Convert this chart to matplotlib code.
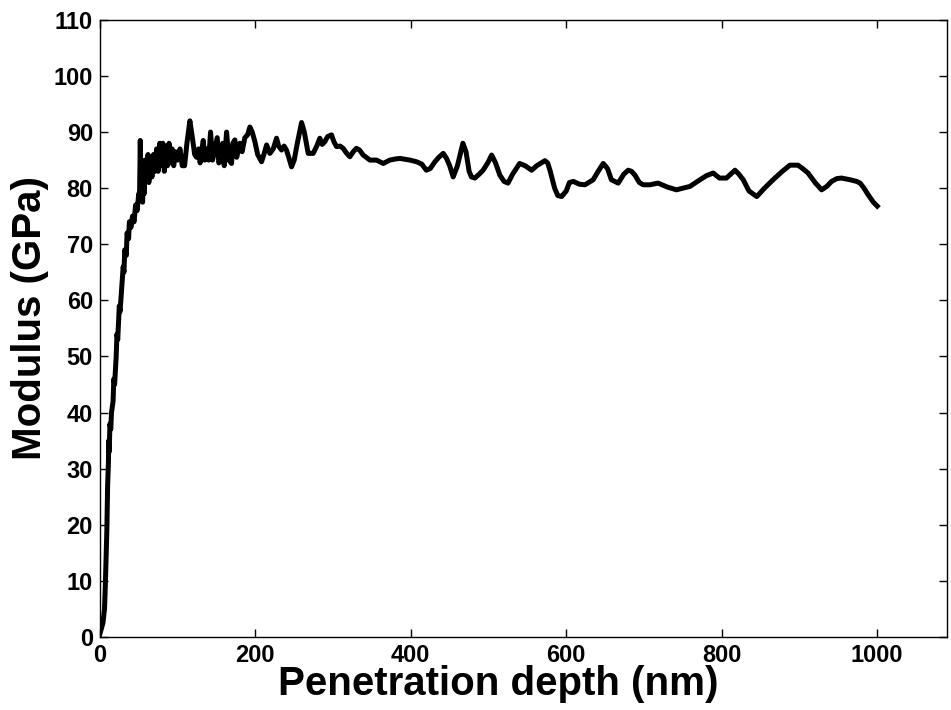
import matplotlib
matplotlib.use("Agg")
import matplotlib.pyplot as plt
import numpy as np

# penetration depth (nm) and modulus (GPa)
depth = [0, 2, 4, 6, 7, 8, 9, 10, 11, 11.5, 12, 13, 14, 15, 17, 18, 19, 21, 22, 23,
         25, 26, 28, 30, 31, 32, 34, 35, 37, 38, 40, 42, 44, 46, 48, 50, 51, 52, 53, 55,
         56, 57, 58, 60, 62, 63, 65, 67, 69, 71, 73, 75, 77, 79, 81, 83, 85, 87, 89, 91,
         93, 95, 97, 100, 103, 106, 109, 112, 115.8, 119, 122, 124.4, 127, 129, 133, 135, 137, 140, 142.4, 145,
         148, 151, 153, 155.3, 158, 160, 163, 166, 169.4, 171, 173.7, 176, 180, 183, 186.5, 190, 193, 196, 199.4, 203,
         208, 211, 214.5, 218.7, 223, 227.3, 230, 233.7, 237, 240, 243, 246.6, 250, 254, 259.5, 263, 268, 274.4, 279, 283,
         286, 289.5, 293, 298, 301, 304.5, 309, 313, 317, 321.6, 326, 330, 334, 338.8, 347.4, 356, 364.5, 373, 380, 386,
         399, 407.5, 414, 420, 425, 431, 436, 441.7, 446, 450, 454.5, 460, 467, 471, 475, 478, 482.4, 488, 493, 499,
         504, 509, 514.6, 520, 525, 531, 540, 547, 555.4, 562, 572.5, 576, 579, 585, 589, 594, 600, 604, 609, 617,
         624, 634.6, 641, 647.5, 653, 658, 666.8, 674, 679.7, 684, 688.4, 694, 699, 707.6, 718, 730, 741.7, 750, 759, 772,
         780, 789, 797, 806, 817, 822, 827.6, 835, 845, 855, 866, 878, 887.7, 898, 904, 911, 920, 928.4, 935, 941.3,
         948, 954, 965, 973.5, 978, 983, 988.4, 995, 1000]
modulus = [0.5, 1.5, 2.5, 5, 9, 14, 19, 27, 31, 35, 33, 38, 37, 40, 42, 46, 45, 50, 54, 53,
           59, 58, 62, 66, 65, 69, 68, 72, 71, 74, 73, 75, 74, 77, 76, 79, 78, 88.5, 80, 77.5,
           84, 79, 85, 82, 86, 81, 85.5, 82, 86, 83, 87, 83, 88, 84, 88, 83, 87.5, 84, 88, 84.5,
           87, 84, 86.5, 85, 87, 84, 84, 88, 92, 89, 86, 85.5, 87, 84.5, 88.5, 85, 87, 85, 90, 85,
           87, 89, 84.5, 85, 88, 84, 90, 85, 84.4, 88, 88.6, 85.5, 88, 86.5, 89, 89.5, 90.9, 90, 88.3, 86,
           84.7, 86, 87.7, 86.2, 87, 88.9, 87.5, 86.8, 87.5, 86.8, 85.5, 83.8, 85, 88, 91.7, 90, 86.2, 86.2, 87.5, 88.9,
           87.8, 88.3, 89.2, 89.5, 88.3, 87.4, 87.5, 87.1, 86.3, 85.6, 86.5, 87.1, 86.8, 85.9, 85, 85, 84.4, 85, 85.2, 85.3,
           85, 84.7, 84.3, 83.2, 83.5, 84.7, 85.5, 86.2, 85.3, 84, 82, 84, 88, 86.5, 83, 82, 81.8, 82.5, 83.2, 84.5,
           85.9, 84.5, 82.3, 81.2, 80.9, 82.5, 84.4, 84, 83.2, 84, 84.9, 84.5, 83.2, 80, 78.7, 78.5, 79.5, 81, 81.2, 80.7,
           80.6, 81.5, 83, 84.4, 83.5, 81.5, 80.9, 82.5, 83.2, 83, 82.3, 81, 80.6, 80.6, 80.9, 80.2, 79.7, 80, 80.3, 81.5,
           82.2, 82.7, 81.8, 81.8, 83.2, 82.5, 81.5, 79.5, 78.5, 80, 81.5, 83, 84.1, 84.1, 83.5, 82.7, 81, 79.7, 80.3, 81.2,
           81.7, 81.8, 81.5, 81.2, 80.9, 80, 78.8, 77.5, 76.8]

xticks = [0, 200, 400, 600, 800, 1000]
yticks = list(range(0, 111, 10))

plt.rcParams['font.family'] = ['Liberation Sans', 'DejaVu Sans']
plt.rcParams['font.weight'] = 'bold'

fig = plt.figure(figsize=(9.51, 7.10), dpi=100)
ax = fig.add_axes([0.105, 0.103, 0.891, 0.869])

ax.plot(depth, modulus, color='black', linewidth=3.6, solid_joinstyle='round')

ax.set_xlim(0, 1090)
ax.set_ylim(0, 110)
ax.set_xticks(xticks)
ax.set_yticks(yticks)
ax.tick_params(direction='in', length=6, width=1, top=True, right=True,
               labelsize=17, pad=5)
for lbl in ax.get_xticklabels() + ax.get_yticklabels():
    lbl.set_fontweight('bold')
for s in ax.spines.values():
    s.set_linewidth(1)

ax.set_xlabel('Penetration depth (nm)', fontsize=29, fontweight='bold')
ax.set_ylabel('Modulus (GPa)', fontsize=29, fontweight='bold')
ax.xaxis.set_label_coords(0.47, -0.045)
ax.yaxis.set_label_coords(-0.06, 0.517)

fig.savefig('out.png', dpi=100)
